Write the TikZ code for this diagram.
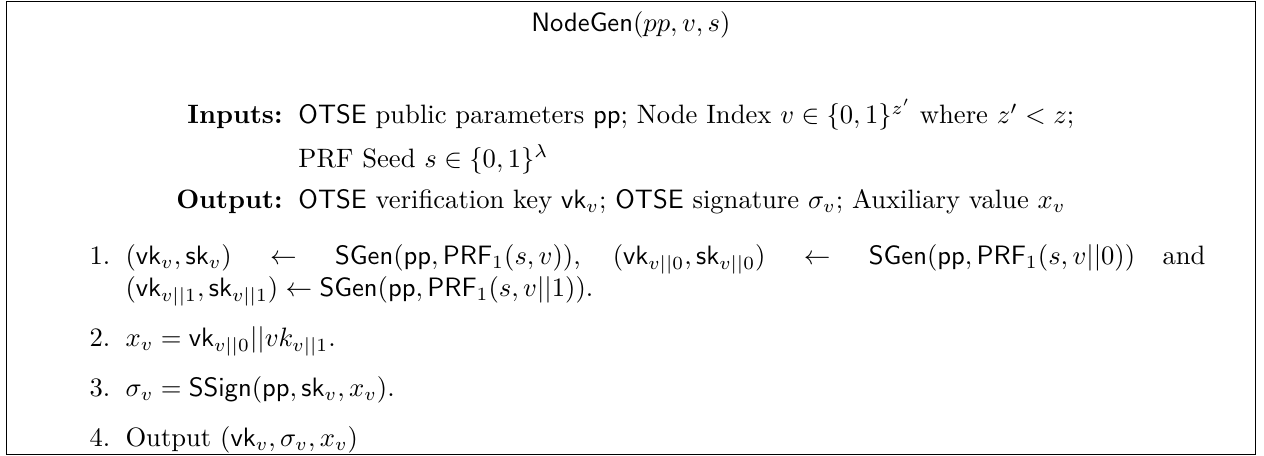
\documentclass[tikz,border=0pt]{standalone}
\usepackage{amsmath, amssymb}
\newcommand{\alg}[1]{\mathsf{#1}}

\begin{document}
\begin{tikzpicture}[x=1pt, y=1pt,
          every node/.style={inner sep=0pt},
          field/.style={anchor=base east, font=\bfseries},
          entry/.style={anchor=base west},
          num/.style={anchor=base east},
          stepline/.style={anchor=base west, text width=406pt, align=justify}]
      \useasboundingbox (0,0) rectangle (475.2,-171.4);
      \draw (2.4,-0.4) rectangle (472.0,-171.0);
      \node[anchor=base] (title) at (237.2,-11.7) {$\alg{NodeGen}(pp, v, s)$};
      \node[field] (inlabel) at (106.4,-46.6) {Inputs:};
      \node[entry] (intext) at (112.0,-46.6)
            {$\alg{OTSE}$ public parameters $\alg{pp}$; Node Index
             $v \in \{0,1\}^{z'}$ where $z' < z$;};
      \node[entry] (seedtext) at (112.0,-62.8)
            {PRF Seed $s \in \{0,1\}^{\lambda}$};
      \node[field] (outlabel) at (106.4,-78.2) {Output:};
      \node[entry] (outtext) at (112.0,-78.2)
            {$\alg{OTSE}$ verification key $\alg{vk}_v$; $\alg{OTSE}$
             signature $\sigma_v$; Auxiliary value $x_v$};
      \node[num] (num1) at (41.7,-99.6) {1.};
      \node[stepline] (step1) at (47.0,-99.6)
            {$(\alg{vk}_v, \alg{sk}_v) \leftarrow \alg{SGen}(\alg{pp}, \alg{PRF}_1(s, v))$,
             $(\alg{vk}_{v||0}, \alg{sk}_{v||0}) \leftarrow
              \alg{SGen}(\alg{pp}, \alg{PRF}_1(s, v||0))$ and
             ${(\alg{vk}_{v||1}, \alg{sk}_{v||1}) \leftarrow
              \alg{SGen}(\alg{pp}, \alg{PRF}_1(s, v||1))}$.};
      \node[num] (num2) at (41.7,-130.3) {2.};
      \node[entry] (step2) at (47.0,-130.3)
            {$x_v = \alg{vk}_{v||0}||vk_{v||1}$.};
      \node[num] (num3) at (41.7,-149.0) {3.};
      \node[entry] (step3) at (47.0,-149.0)
            {$\sigma_v = \alg{SSign}(\alg{pp}, \alg{sk}_v, x_v)$.};
      \node[num] (num4) at (41.7,-167.7) {4.};
      \node[entry] (step4) at (47.0,-167.7)
            {Output $(\alg{vk}_v, \sigma_v, x_v)$};
    \end{tikzpicture}
\end{document}
